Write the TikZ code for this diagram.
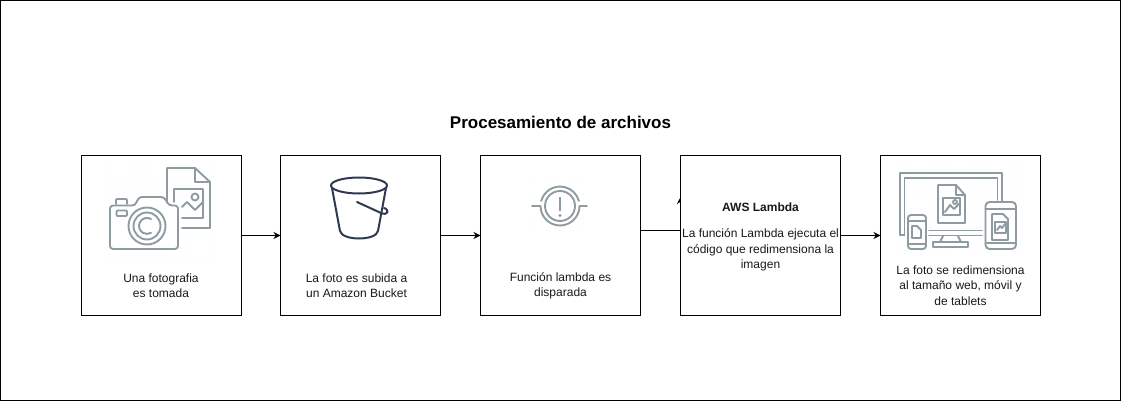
\documentclass[tikz,border=0pt]{standalone}
\usepackage{fontspec}
\setmainfont{Liberation Sans}
\usetikzlibrary{arrows.meta,backgrounds}
\definecolor{icong}{HTML}{8E9BA1}
\definecolor{bucket}{HTML}{2F3A50}
\definecolor{dotg}{HTML}{E8ECEE}
\tikzset{
  x=1pt,y=-1pt,
  card/.style={draw=black,fill=white,line width=1pt,minimum width=160pt,minimum height=160pt,inner sep=0pt,outer sep=0pt,anchor=north west},
  captxt/.style={font=\fontsize{12}{15.5}\selectfont,align=center,inner sep=0pt,text=black!90},
  flow/.style={draw=black,line width=1pt,-{Stealth[length=7pt,width=7pt]}},
  ic/.style={draw=icong,line width=1.9pt,line join=round,line cap=round},
  bk/.style={draw=bucket,line width=2pt,line join=round,line cap=round},
}
\begin{document}
\begin{tikzpicture}
\useasboundingbox (0,0) rectangle (1121,401);
\node[draw=black,line width=1pt,minimum width=1120pt,minimum height=400pt,inner sep=0pt,outer sep=0pt,anchor=north west] (frame) at (0.5,0.5) {};
\node[inner sep=0pt,font=\bfseries\fontsize{17}{20}\selectfont] (title) at (560.5,122) {Procesamiento de archivos};
\node[card] (a) at (81.5,155.5) {};
\node[card] (b) at (280.5,155.5) {};
\node[card] (c) at (480.5,155.5) {};
\node[card] (d) at (680.5,155.5) {};
\node[card] (e) at (880.5,155.5) {};
\draw[flow] (a.east) -- (b.west);
\draw[flow] (b.east) -- (c.west);
\draw[flow] (d.east) -- (e.west);
\begin{scope}[on background layer]
\coordinate (cout) at (640.5,230.5);
\coordinate (dtip) at (680.5,197);
\draw[flow] (cout) -- (680.5,230.5) -- (dtip);
\end{scope}
% dots
\foreach \x in {110,120,...,210} \foreach \y in {168,178,...,258} \fill[dotg] (\x,\y) circle (0.6);
\foreach \x in {535,547,...,590} \foreach \y in {182,194,...,230} \fill[dotg] (\x,\y) circle (0.6);
\foreach \x in {900,910,...,1020} \foreach \y in {168,178,...,250} \fill[dotg] (\x,\y) circle (0.6);
% camera icon
\draw[ic] (167,204) -- (167,168) -- (195,168) -- (210,182) -- (210,228) -- (182,228);
\draw[ic] (195,168) -- (195,182) -- (210,182);
\draw[ic] (174,202) -- (174,189) -- (203,189) -- (203,218) -- (182,218);
\draw[ic] (182,207) -- (187,202) -- (195,210) -- (203,202);
\draw[ic] (195,197) circle (3.5);
\draw[ic,fill=white,rounded corners=3pt] (110,205.5) -- (110,249) -- (178,249) -- (178,205.5) -- (169,205.5) -- (164,197) -- (139,197) -- (135,205.5) -- cycle;
\draw[ic,rounded corners=1pt] (116,204) -- (116,199) -- (127,199) -- (127,204);
\draw[ic,rounded corners=1pt] (116.5,210.5) rectangle (127,216);
\draw[ic] (147,226) circle (18.5);
\draw[ic] (147,226) circle (13.5);
\draw[ic] (151,219) arc (-60:-300:8);
\node[captxt] (at) at (161,285.5) {Una fotografia\\es tomada};
% bucket
\draw[bk] (359,185.5) ellipse (28 and 8);
\draw[bk] (332,188) -- (340,231) .. controls (342,241) and (376,241) .. (378,231) -- (386,188);
\draw[bk] (357,202) -- (381,213) .. controls (388,216) and (390,210) .. (384,208);
\node[captxt] (bt) at (356.5,285.5) {La foto es subida a\\un Amazon Bucket};
% lambda
\draw[ic] (532,206) -- (540.5,206) arc (180:0:19.5) -- (587,206);
\draw[ic] (541.2,201) arc (-165:-15:19.5);
\draw[ic] (545,206) arc (180:-180:15);
\draw[icong,line width=2.2pt] (560,197) -- (560,211);
\fill[icong] (560,215.5) circle (1.6);
\node[captxt] (ct) at (560.5,286) {Función lambda es\\disparada};
% devices
\draw[ic] (900,235) -- (900,173) -- (1002,173) -- (1002,201);
\draw[ic] (904.5,235) -- (904.5,178) -- (997.5,178) -- (997.5,200);
\draw[ic] (900,235) -- (904.5,235);
\draw[ic] (938,185) -- (956,185) -- (965,195) -- (965,223) -- (938,223) -- cycle;
\draw[ic] (956,185) -- (956,195) -- (965,195);
\draw[ic] (943,198) rectangle (960,215);
\draw[ic] (945,212) -- (950,205) -- (954,209) -- (960,203);
\draw[ic] (955,202) circle (2);
\draw[ic] (929,230.5) -- (982,230.5);
\draw[ic] (929,235.5) -- (982,235.5);
\draw[ic] (943,236) -- (940,242) -- (961,242) -- (958,236);
\draw[ic] (933,242) rectangle (968,247);
\draw[ic,rounded corners=3pt] (908,215) rectangle (926,249);
\draw[ic] (908,221) -- (926,221);
\draw[ic] (908,244) -- (926,244);
\draw[ic] (912,226) -- (917,226) -- (921,230) -- (921,238) -- (912,238) -- cycle;
\draw[ic,rounded corners=4pt] (985.5,202) rectangle (1016,249);
\draw[ic] (985.5,209) -- (1016,209);
\draw[ic] (985.5,243) -- (1016,243);
\draw[ic] (992,214) -- (1003,214) -- (1008,219) -- (1008,240) -- (992,240) -- cycle;
\draw[ic] (995,222) rectangle (1006,233);
\draw[ic] (997,230) -- (1000,226) -- (1002,228) -- (1005,224);
\node[captxt] (dt) at (760.5,207.5) {\bfseries AWS Lambda};
\node[captxt] (dt2) at (760.5,250) {La función Lambda ejecuta el\\código que redimensiona la\\imagen};
\node[captxt] (et) at (960.5,285.5) {La foto se redimensiona\\al tamaño web, móvil y\\de tablets};
\end{tikzpicture}
\end{document}
